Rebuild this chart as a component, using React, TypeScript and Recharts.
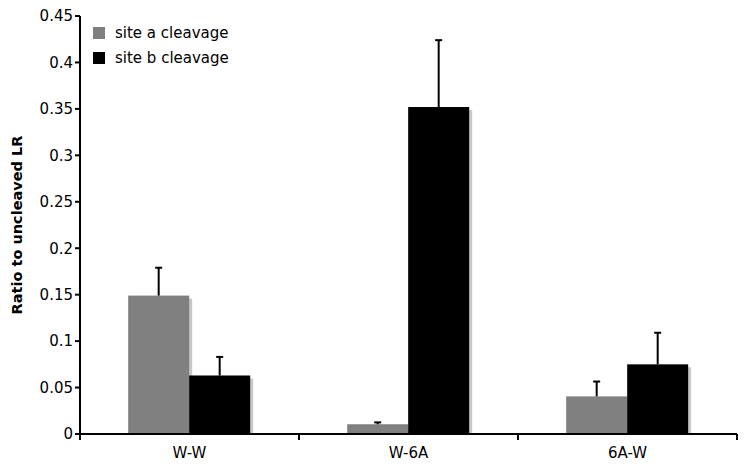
import React from 'react';
import { BarChart, Bar, XAxis, YAxis } from 'recharts';

const categories = ['W-W', 'W-6A', '6A-W'];
const siteA = [0.149, 0.0105, 0.0405];
const siteAErr = [0.030, 0.002, 0.016];
const siteB = [0.063, 0.352, 0.075];
const siteBErr = [0.020, 0.072, 0.034];
const yTicks = [0, 0.05, 0.1, 0.15, 0.2, 0.25, 0.3, 0.35, 0.4, 0.45];

const data = categories.map((c, i) => ({
  name: c,
  a: siteA[i],
  aErr: siteAErr[i],
  b: siteB[i],
  bErr: siteBErr[i],
}));

const FONT = 'DejaVu Sans, Verdana, sans-serif';

const makeShape = (errKey: string, valKey: string) => (props: any) => {
  const { x, y, width, height, fill, payload } = props;
  if (height == null || width == null) return null;
  const v = payload[valKey];
  const e = payload[errKey];
  const pxPerUnit = v ? height / v : 0;
  const errTop = y - e * pxPerUnit;
  const cx = x + width / 2;
  return (
    <g>
      <rect x={x + 3} y={y + 3} width={width} height={Math.max(height - 3, 0)} fill="#c8c8c8" />
      <rect x={x} y={y} width={width} height={height} fill={fill} />
      <line x1={cx} x2={cx} y1={y} y2={errTop} stroke="#000" strokeWidth={2} />
      <line x1={cx - 3.5} x2={cx + 3.5} y1={errTop} y2={errTop} stroke="#000" strokeWidth={2} />
    </g>
  );
};

const ShapeA = makeShape('aErr', 'a');
const ShapeB = makeShape('bErr', 'b');

const CatTick = (props: any) => {
  const { x, y, payload, index, visibleTicksCount } = props;
  const half = payload && payload.offset ? payload.offset : 0;
  const last = index === visibleTicksCount - 1;
  return (
    <g>
      <line x1={x - half} x2={x - half} y1={y} y2={y + 6} stroke="#000" strokeWidth={2} />
      {last && <line x1={x + half} x2={x + half} y1={y} y2={y + 6} stroke="#000" strokeWidth={2} />}
      <text x={x} y={y + 24} textAnchor="middle" fontFamily={FONT} fontSize={15} fill="#000">
        {payload.value}
      </text>
    </g>
  );
};

const legendItems = [
  { label: 'site a cleavage', color: '#808080' },
  { label: 'site b cleavage', color: '#000000' },
];

export default function App() {
  return (
    <div style={{ position: 'absolute', left: 0, top: 0, width: 750, height: 471, background: '#fff' }}>
      <BarChart
        width={750}
        height={471}
        data={data}
        margin={{ top: 16, right: 13, bottom: 0, left: 0 }}
        barCategoryGap="22%"
        barGap={0}
      >
        <XAxis
          dataKey="name"
          axisLine={{ stroke: '#000', strokeWidth: 2 }}
          tickLine={false}
          tickSize={0}
          tickMargin={0}
          tick={<CatTick />}
          interval={0}
          height={37}
        />
        <YAxis
          domain={[0, 0.45]}
          ticks={yTicks}
          interval={0}
          tickFormatter={(v: number) => String(+v.toFixed(2))}
          axisLine={{ stroke: '#000', strokeWidth: 2 }}
          tickLine={{ stroke: '#000', strokeWidth: 2 }}
          tickSize={5}
          tick={{ fill: '#000', fontSize: 15, fontFamily: FONT }}
          width={80}
          label={{
            value: 'Ratio to uncleaved LR',
            angle: -90,
            position: 'insideLeft',
            offset: 17,
            style: { textAnchor: 'middle', fontFamily: FONT, fontSize: 14.5, fontWeight: 'bold', fill: '#000' },
          }}
        />
        <Bar dataKey="a" name="site a cleavage" fill="#808080" shape={<ShapeA />} isAnimationActive={false} />
        <Bar dataKey="b" name="site b cleavage" fill="#000000" shape={<ShapeB />} isAnimationActive={false} />
      </BarChart>
      <div style={{ position: 'absolute', left: 93, top: 20, fontFamily: FONT, fontSize: 15, color: '#000' }}>
        {legendItems.map((it) => (
          <div key={it.label} style={{ display: 'flex', alignItems: 'center', height: 25 }}>
            <span style={{ width: 12, height: 12, background: it.color, display: 'inline-block', marginRight: 10 }} />
            <span>{it.label}</span>
          </div>
        ))}
      </div>
    </div>
  );
}
